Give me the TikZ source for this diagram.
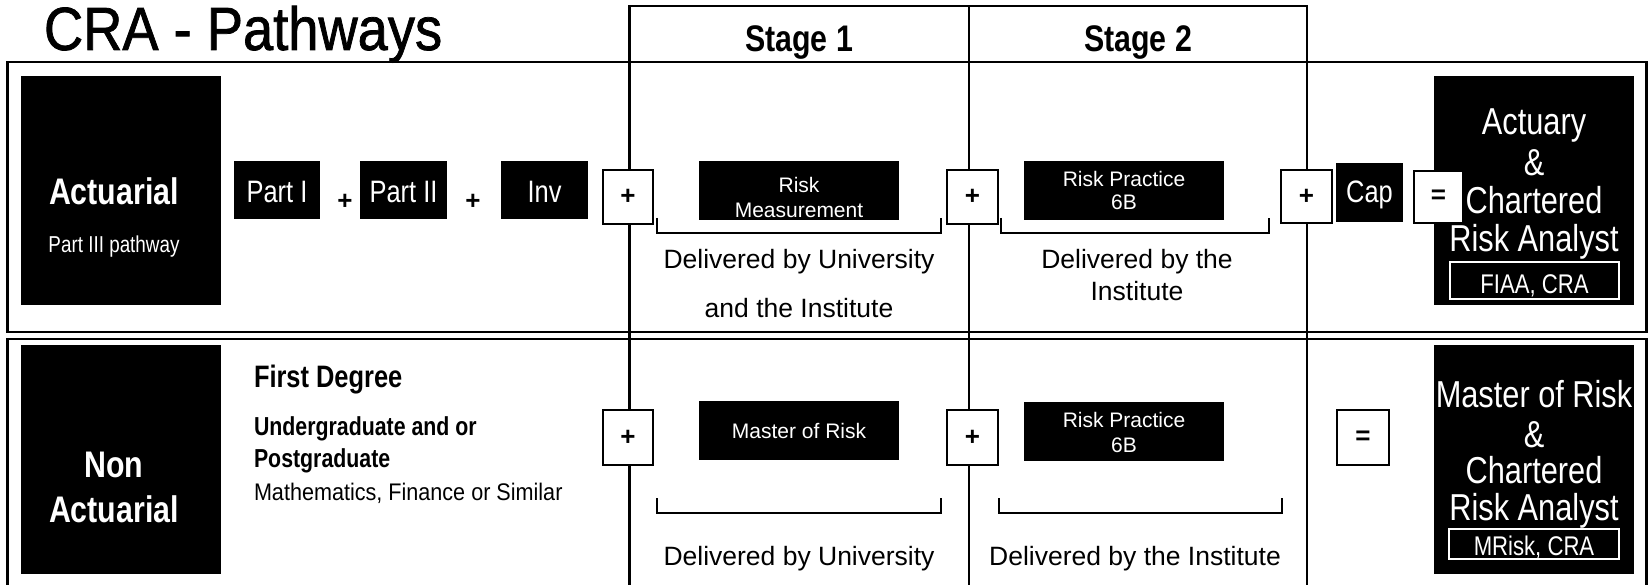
\documentclass[tikz,border=0pt]{standalone}
\usepackage{fontspec}
\setmainfont{Liberation Sans}
\newfontfamily\nA[FakeStretch=0.82]{Liberation Sans}
\newfontfamily\nB[FakeStretch=0.9]{Liberation Sans}
\newfontfamily\nT[FakeStretch=0.89, FakeBold=1.2]{Liberation Sans}
\newfontfamily\rA{Liberation Sans}
\newcommand{\fsz}[1]{\fontsize{#1}{#1}\selectfont}
\tikzset{
  frame/.style={line width=2.4pt},
  sz/.style 2 args={minimum width=#1pt, minimum height=#2pt},
  blk/.style={fill=black, draw=none, inner sep=0pt, outer sep=0pt},
  wbox/.style={fill=white, draw=black, line width=2.4pt, inner sep=0pt, outer sep=0pt, font=\rA\bfseries\fsz{26}},
  txt/.style={anchor=base, inner sep=0pt, outer sep=0pt},
  wt/.style={txt, text=white},
  ltxt/.style={anchor=base west, inner sep=0pt, outer sep=0pt},
  brk/.style={line width=1.6pt},
  parttxt/.style={wt, font=\nA\fsz{31}},
  smalltxt/.style={wt, font=\rA\fsz{21}},
  deliv/.style={txt, font=\rA\fsz{26.5}},
  restxt/.style={wt, font=\nA\fsz{37.5}},
  labtxt/.style={wt, font=\nA\fsz{27}}
}
\begin{document}
\begin{tikzpicture}[x=1pt,y=-1pt, line join=miter]
\useasboundingbox (0,0) rectangle (1648,585);
\fill[white] (0,0) rectangle (1648,585);

% title
\node[ltxt, font=\nT\fsz{61}] (title) at (44,50) {CRA - Pathways};

% frames
\draw[frame] (7.5,62) rectangle (1646.5,332);
\draw[frame] (7.5,600) -- (7.5,339) -- (1646.5,339) -- (1646.5,600);
\draw[frame] (629.5,600) -- (629.5,6) -- (1307,6) -- (1307,600);
\draw[frame] (969,6) -- (969,600);

% stage headers
\node[txt, font=\nA\bfseries\fsz{37}] (st1) at (799,52) {Stage 1};
\node[txt, font=\nA\bfseries\fsz{37}] (st2) at (1138,52) {Stage 2};

% ---------- top row ----------
\node[blk, sz={200}{229}] (act) at (121,190.5) {};
\node[wt, font=\nA\bfseries\fsz{37}] (actT) at (114,205) {Actuarial};
\node[wt, font=\nA\fsz{23}] (actS) at (114,253) {Part III pathway};

\node[blk, sz={86}{58}] (p1) at (277,190) {};
\node[parttxt] (p1T) at (277,203) {Part I};
\node[txt, font=\rA\bfseries\fsz{26}] (pl1) at (345,210) {+};
\node[blk, sz={87}{58}] (p2) at (403.5,190) {};
\node[parttxt] (p2T) at (403.5,203) {Part II};
\node[txt, font=\rA\bfseries\fsz{26}] (pl2) at (473,210) {+};
\node[blk, sz={87}{58}] (inv) at (544.5,190) {};
\node[parttxt] (invT) at (544.5,203) {Inv};

\node[wbox, sz={50}{54}] (pb1) at (628,197) {+};
\node[blk, sz={200}{59}] (rm) at (799,190.5) {};
\node[smalltxt] (rmA) at (799,193) {Risk};
\node[smalltxt] (rmB) at (799,218) {Measurement};
\draw[brk] (657,218) -- (657,233) -- (941,233) -- (941,218);
\node[deliv] (d1a) at (799,269) {Delivered by University};
\node[deliv] (d1b) at (799,317) {and the Institute};

\node[wbox, sz={51}{54}] (pb2) at (972.5,197) {+};
\node[blk, sz={200}{59}] (rp1) at (1124,190.5) {};
\node[smalltxt] (rp1A) at (1124,187) {Risk Practice};
\node[smalltxt] (rp1B) at (1124,210) {6B};
\draw[brk] (1001,218) -- (1001,233) -- (1269,233) -- (1269,218);
\node[deliv] (d2a) at (1137,269) {Delivered by the};
\node[deliv] (d2b) at (1137,300) {Institute};

\node[wbox, sz={51}{53}] (pb3) at (1306.5,196.5) {+};
\node[blk, sz={67}{59}] (cap) at (1369.5,192.5) {};
\node[parttxt] (capT) at (1369.5,203) {Cap};

\node[blk, sz={200}{229}] (res1) at (1534,190.5) {};
\node[wbox, sz={49}{52}] (eq1) at (1438.5,197) {=};
\node[restxt] (r1a) at (1534,135) {Actuary};
\node[restxt] (r1b) at (1534,176) {\&};
\node[restxt] (r1c) at (1534,214) {Chartered};
\node[restxt] (r1d) at (1534,252) {Risk Analyst};
\node[blk, draw=white, line width=2pt, sz={169}{37}] (fiaa) at (1534.5,280.5) {};
\node[labtxt] (fiaaT) at (1534.5,293) {FIAA, CRA};

% ---------- bottom row ----------
\node[blk, sz={200}{229}] (non) at (121,459.5) {};
\node[wt, font=\nA\bfseries\fsz{37}] (nonA) at (114,477) {Non};
\node[wt, font=\nA\bfseries\fsz{37}] (nonB) at (114,522) {Actuarial};

\node[ltxt, font=\nA\bfseries\fsz{31}] (fd) at (254,387) {First Degree};
\node[ltxt, font=\nA\bfseries\fsz{26}] (ug1) at (254,435) {Undergraduate and or};
\node[ltxt, font=\nA\bfseries\fsz{26}] (ug2) at (254,467) {Postgraduate};
\node[ltxt, font=\nB\fsz{24}] (math) at (254,500) {Mathematics, Finance or Similar};

\node[wbox, sz={50}{55}] (pb4) at (628,437.5) {+};
\node[blk, sz={200}{59}] (mr) at (799,430.5) {};
\node[smalltxt] (mrT) at (799,438) {Master of Risk};
\draw[brk] (657,498) -- (657,513) -- (941,513) -- (941,498);
\node[deliv] (d3a) at (799,565) {Delivered by University};

\node[wbox, sz={51}{55}] (pb5) at (972.5,437.5) {+};
\node[blk, sz={200}{59}] (rp2) at (1124,431.5) {};
\node[smalltxt] (rp2A) at (1124,427) {Risk Practice};
\node[smalltxt] (rp2B) at (1124,452) {6B};
\draw[brk] (999,498) -- (999,513) -- (1282,513) -- (1282,498);
\node[deliv] (d4a) at (1135,565) {Delivered by the Institute};

\node[wbox, sz={52}{55}] (eq2) at (1363,437.5) {=};
\node[blk, sz={200}{229}] (res2) at (1534,459.5) {};
\node[restxt] (r2a) at (1534,407) {Master of Risk};
\node[restxt] (r2b) at (1534,447) {\&};
\node[restxt] (r2c) at (1534,483) {Chartered};
\node[restxt] (r2d) at (1534,520) {Risk Analyst};
\node[blk, draw=white, line width=2pt, sz={170}{30}] (mrisk) at (1534,544) {};
\node[labtxt] (mriskT) at (1534,555) {MRisk, CRA};
\end{tikzpicture}
\end{document}
